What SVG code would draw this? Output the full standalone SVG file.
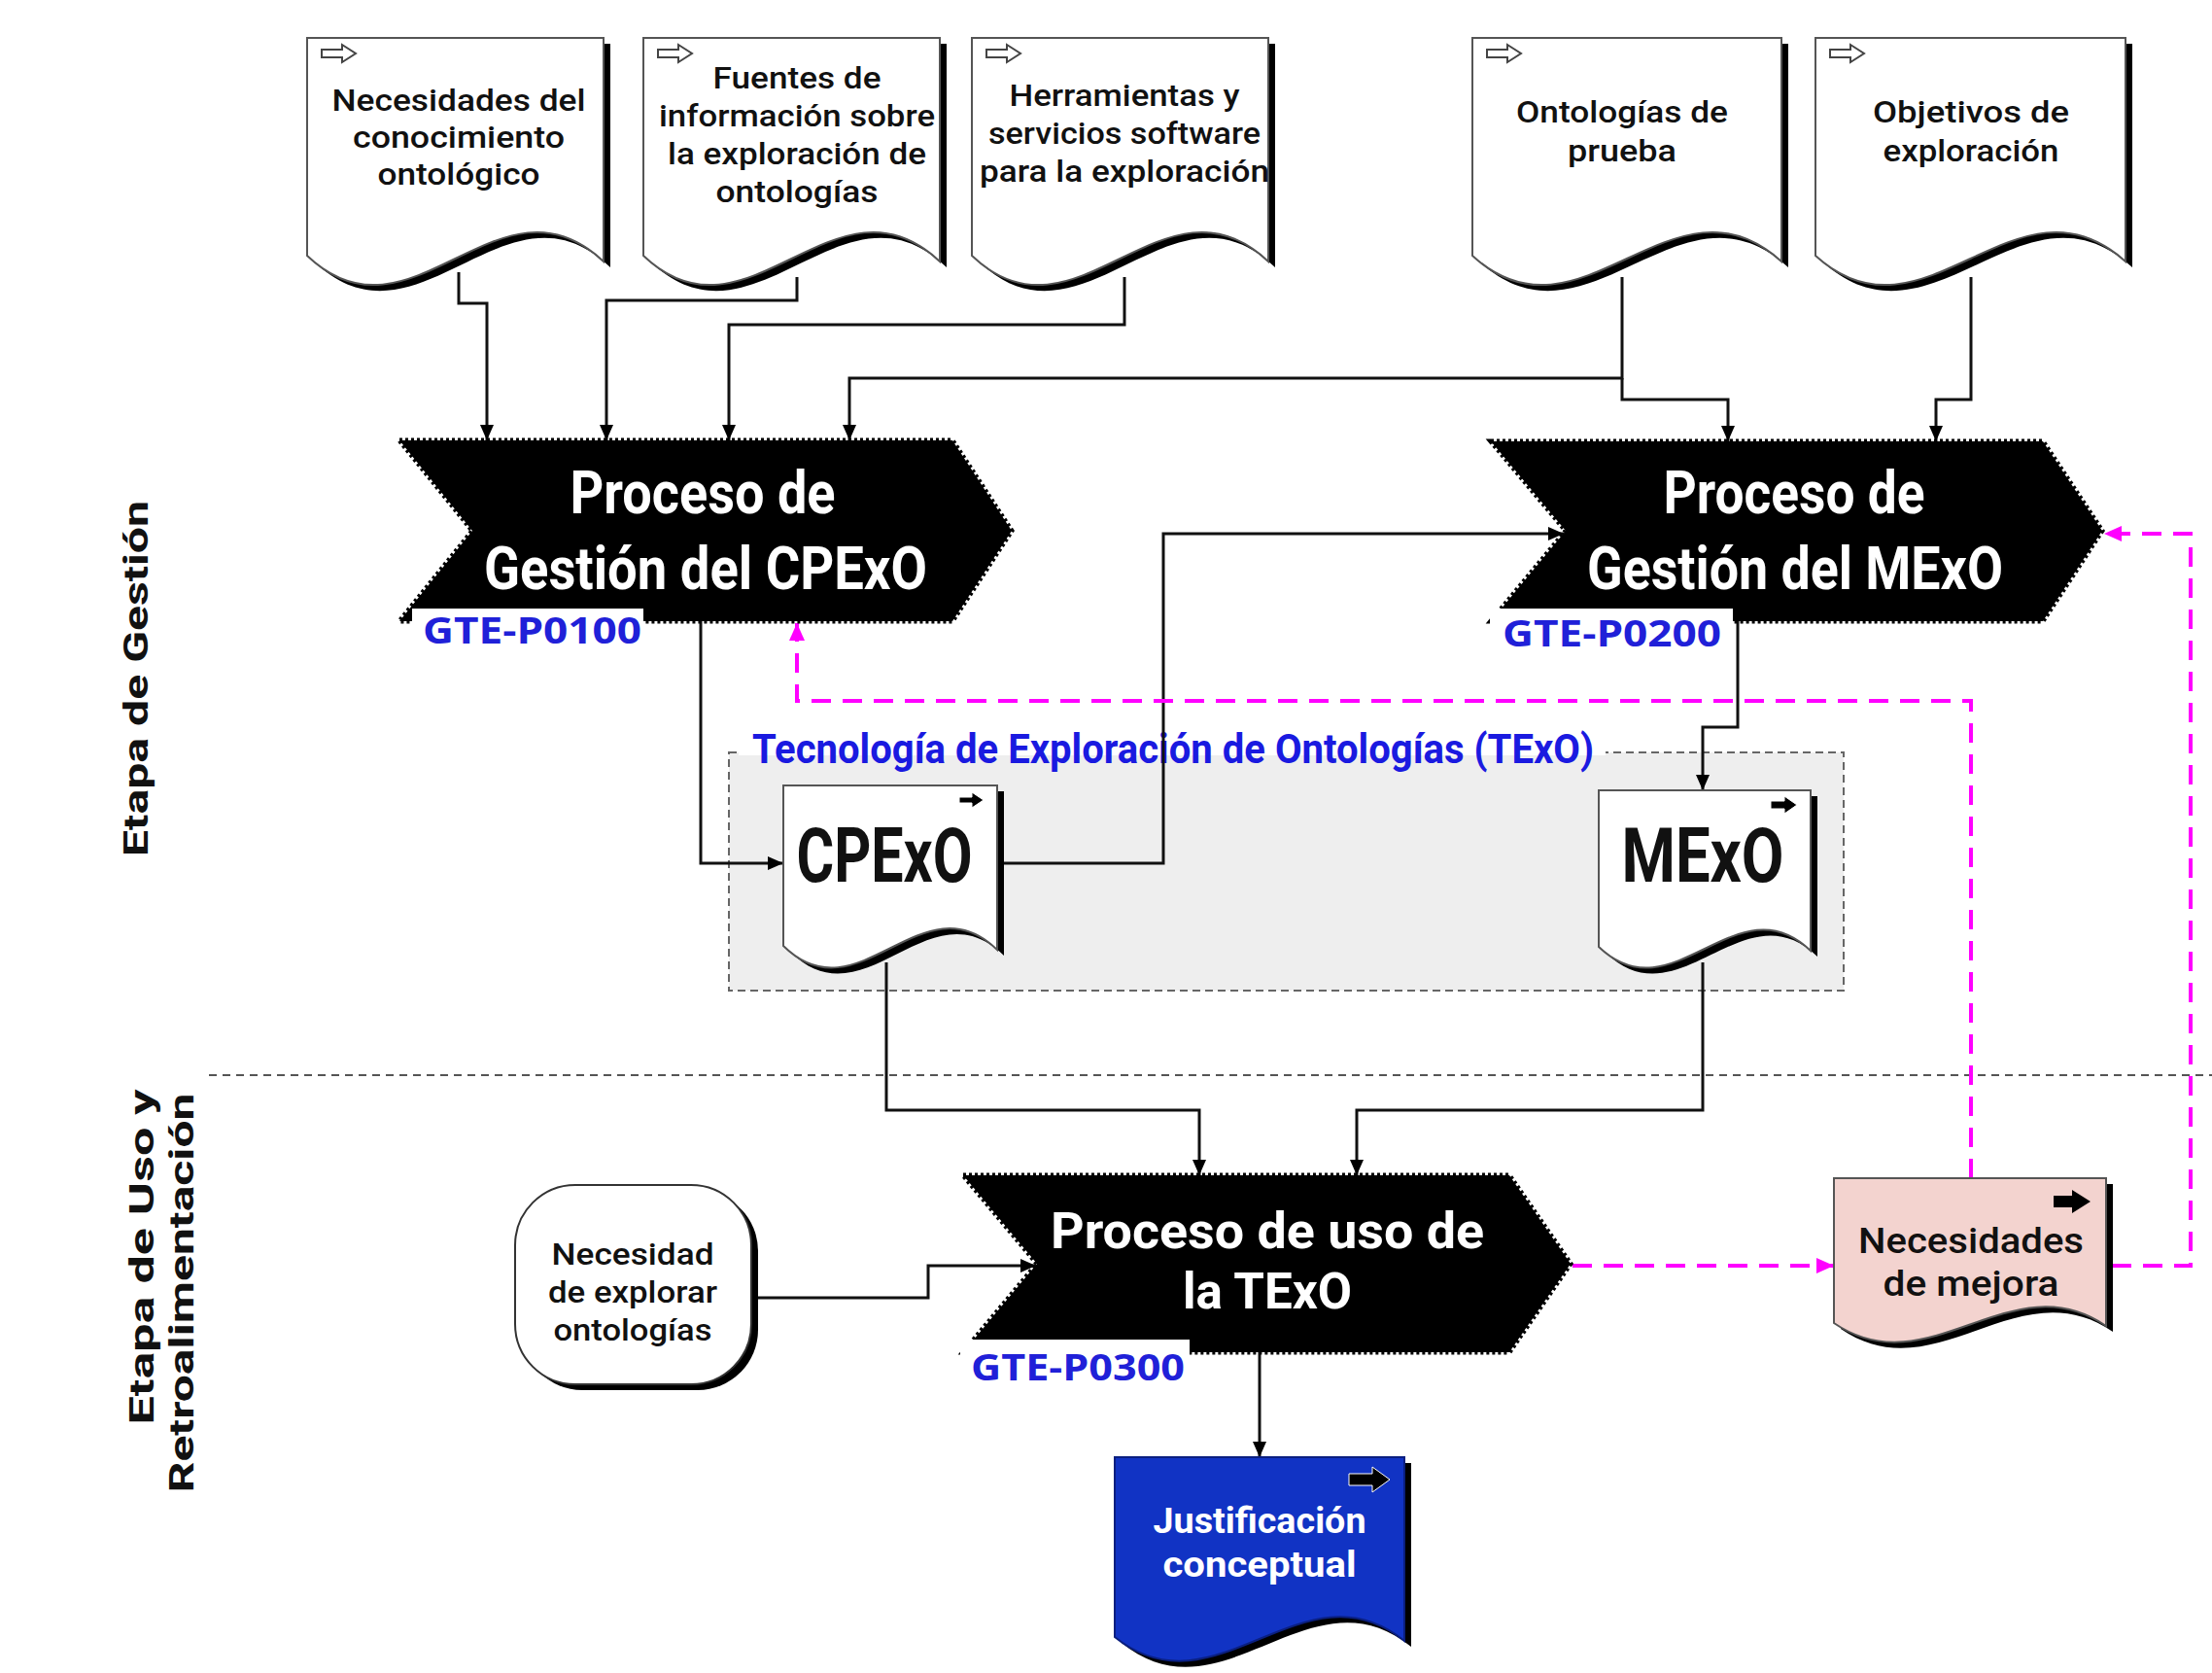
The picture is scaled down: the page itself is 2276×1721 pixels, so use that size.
<svg xmlns="http://www.w3.org/2000/svg" width="2276" height="1721" viewBox="0 0 2276 1721">
<style>
.doc{fill:#fff;stroke:#555;stroke-width:2}
.shadow{fill:#000}
.dt{font-family:Roboto,"Liberation Sans",Arial,sans-serif;font-size:32px;font-weight:500;fill:#111;text-anchor:middle}
.pt{font-family:Roboto,"Liberation Sans",Arial,sans-serif;font-size:62px;font-weight:bold;fill:#fff;text-anchor:middle}
.pt3{font-family:Roboto,"Liberation Sans",Arial,sans-serif;font-size:52px;font-weight:bold;fill:#fff;text-anchor:middle}
.proc{fill:#000;stroke:#000;stroke-width:5;stroke-dasharray:3 3}
.lbl{font-family:"Open Sans","Liberation Sans",Arial,sans-serif;font-size:38px;font-weight:bold;fill:#2020d8}
.lblbox{fill:#fff}
.con{fill:none;stroke:#111;stroke-width:3}
.mag{fill:none;stroke:#ff00ff;stroke-width:4;stroke-dasharray:20 12}
.stage{font-family:Roboto,"Liberation Sans",Arial,sans-serif;font-size:35px;font-weight:bold;fill:#111;text-anchor:middle}
.hicon{fill:#fff;stroke:#444;stroke-width:2}
.bicon{fill:#000;stroke:#fff;stroke-width:1}
.big{font-family:Roboto,"Liberation Sans",Arial,sans-serif;font-size:78px;font-weight:bold;fill:#111;text-anchor:middle}
.mt{font-family:Roboto,"Liberation Sans",Arial,sans-serif;font-size:36px;font-weight:500;fill:#111;text-anchor:middle}
.jt{font-family:Roboto,"Liberation Sans",Arial,sans-serif;font-size:37px;font-weight:bold;fill:#fff;text-anchor:middle}
</style>
<defs>
<marker id="ah" markerUnits="userSpaceOnUse" markerWidth="16" markerHeight="14" refX="16" refY="7" orient="auto">
<path d="M0,0 L16,7 L0,14 Z" fill="#000"/>
</marker>
<marker id="mh" markerUnits="userSpaceOnUse" markerWidth="18" markerHeight="16" refX="18" refY="8" orient="auto">
<path d="M0,0 L18,8 L0,16 Z" fill="#ff00ff"/>
</marker>
</defs>
<rect width="2276" height="1721" fill="#fff"/>

<!-- stage divider and labels -->
<line x1="215" y1="1106" x2="2276" y2="1106" stroke="#555" stroke-width="2" stroke-dasharray="8 6"/>
<text class="stage" transform="translate(152,698) rotate(-90)" textLength="366" lengthAdjust="spacingAndGlyphs">Etapa de Gestión</text>
<text class="stage" transform="translate(158,1293) rotate(-90)" textLength="345" lengthAdjust="spacingAndGlyphs">Etapa de Uso y</text>
<text class="stage" transform="translate(199,1330) rotate(-90)" textLength="411" lengthAdjust="spacingAndGlyphs">Retroalimentación</text>

<!-- TExO group box -->
<g id="texo-box">
<rect x="750" y="774" width="1147" height="245" fill="#eeeeee" stroke="#666" stroke-width="2" stroke-dasharray="8 5"/>
<rect x="760" y="740" width="892" height="37" fill="#fff"/>
<text x="774" y="785" font-family="Roboto,Liberation Sans,Arial,sans-serif" font-size="43" font-weight="bold" fill="#1a1ae0" textLength="866" lengthAdjust="spacingAndGlyphs">Tecnología de Exploración de Ontologías (TExO)</text>
</g>

<!-- connectors -->
<g id="connectors">
<path class="con" d="M472,280 V312 H501 V453" marker-end="url(#ah)"/>
<path class="con" d="M820,285 V309 H624 V453" marker-end="url(#ah)"/>
<path class="con" d="M1157,285 V334 H750 V453" marker-end="url(#ah)"/>
<path class="con" d="M1669,285 V389 H874 V453" marker-end="url(#ah)"/>
<path class="con" d="M1669,389 V411 H1778 V454" marker-end="url(#ah)"/>
<path class="con" d="M2028,285 V411 H1992 V454" marker-end="url(#ah)"/>
<path class="con" d="M721,630 V888 H806" marker-end="url(#ah)"/>
<path class="con" d="M1033,888 H1197 V549 H1609" marker-end="url(#ah)"/>
<path class="con" d="M1788,630 V748 H1752 V813" marker-end="url(#ah)"/>
<path class="con" d="M912,990 V1142 H1234 V1209" marker-end="url(#ah)"/>
<path class="con" d="M1752,990 V1142 H1396 V1209" marker-end="url(#ah)"/>
<path class="con" d="M776,1335 H955 V1302 H1066" marker-end="url(#ah)"/>
<path class="con" d="M1296,1391 V1499" marker-end="url(#ah)"/>
<path class="mag" d="M1618,1302 H1887" marker-end="url(#mh)"/>
<path class="mag" d="M2173,1302 H2254 V549 H2165" marker-end="url(#mh)"/>
<path class="mag" d="M2028,1212 V721 H820 V641" marker-end="url(#mh)"/>
</g>

<!-- top input documents -->
<g id="doc-necesidades-conocimiento">
<path class="shadow" d="M323,45 H628 V275 C521,173 430,371 323,269 Z"/>
<path class="doc" d="M316,39 H621 V269 C514,167 423,365 316,263 Z"/>
<path class="hicon" d="M331,51 H352 V46 L366,55 L352,64 V59 H331 Z"/>
<text class="dt" x="472" y="114" textLength="261" lengthAdjust="spacingAndGlyphs">Necesidades del</text>
<text class="dt" x="472" y="152" textLength="218" lengthAdjust="spacingAndGlyphs">conocimiento</text>
<text class="dt" x="472" y="190" textLength="167" lengthAdjust="spacingAndGlyphs">ontológico</text>
</g>
<g id="doc-fuentes">
<path class="shadow" d="M669,45 H974 V275 C867,173 776,371 669,269 Z"/>
<path class="doc" d="M662,39 H967 V269 C860,167 769,365 662,263 Z"/>
<path class="hicon" d="M677,51 H698 V46 L712,55 L698,64 V59 H677 Z"/>
<text class="dt" x="820" y="91" textLength="173" lengthAdjust="spacingAndGlyphs">Fuentes de</text>
<text class="dt" x="820" y="130" textLength="284" lengthAdjust="spacingAndGlyphs">información sobre</text>
<text class="dt" x="820" y="169" textLength="266" lengthAdjust="spacingAndGlyphs">la exploración de</text>
<text class="dt" x="820" y="208" textLength="167" lengthAdjust="spacingAndGlyphs">ontologías</text>
</g>
<g id="doc-herramientas">
<path class="shadow" d="M1007,45 H1312 V275 C1205,173 1114,371 1007,269 Z"/>
<path class="doc" d="M1000,39 H1305 V269 C1198,167 1107,365 1000,263 Z"/>
<path class="hicon" d="M1015,51 H1036 V46 L1050,55 L1036,64 V59 H1015 Z"/>
<text class="dt" x="1157" y="109" textLength="237" lengthAdjust="spacingAndGlyphs">Herramientas y</text>
<text class="dt" x="1157" y="148" textLength="280" lengthAdjust="spacingAndGlyphs">servicios software</text>
<text class="dt" x="1157" y="187" textLength="298" lengthAdjust="spacingAndGlyphs">para la exploración</text>
</g>
<g id="doc-ontologias-prueba">
<path class="shadow" d="M1522,45 H1840 V275 C1729,173 1633,371 1522,269 Z"/>
<path class="doc" d="M1515,39 H1833 V269 C1722,167 1626,365 1515,263 Z"/>
<path class="hicon" d="M1530,51 H1551 V46 L1565,55 L1551,64 V59 H1530 Z"/>
<text class="dt" x="1669" y="126" textLength="218" lengthAdjust="spacingAndGlyphs">Ontologías de</text>
<text class="dt" x="1669" y="166" textLength="112" lengthAdjust="spacingAndGlyphs">prueba</text>
</g>
<g id="doc-objetivos">
<path class="shadow" d="M1875,45 H2194 V275 C2082,173 1987,371 1875,269 Z"/>
<path class="doc" d="M1868,39 H2187 V269 C2075,167 1980,365 1868,263 Z"/>
<path class="hicon" d="M1883,51 H1904 V46 L1918,55 L1904,64 V59 H1883 Z"/>
<text class="dt" x="2028" y="126" textLength="202" lengthAdjust="spacingAndGlyphs">Objetivos de</text>
<text class="dt" x="2028" y="166" textLength="181" lengthAdjust="spacingAndGlyphs">exploración</text>
</g>

<!-- processes -->
<g id="proc-cpexo">
<path class="proc" d="M411,453 H980 L1041,546 L980,639 H411 L486,546 Z"/>
<text class="pt" x="723" y="528" textLength="273" lengthAdjust="spacingAndGlyphs">Proceso de</text>
<text class="pt" x="726" y="606" textLength="456" lengthAdjust="spacingAndGlyphs">Gestión del CPExO</text>
<rect class="lblbox" x="424" y="626" width="238" height="48"/>
<text class="lbl" x="435" y="662" textLength="225" lengthAdjust="spacingAndGlyphs">GTE-P0100</text>
</g>
<g id="proc-mexo">
<path class="proc" d="M1534,454 H2102 L2163,546 L2102,639 H1534 L1611,546 Z"/>
<text class="pt" x="1846" y="528" textLength="269" lengthAdjust="spacingAndGlyphs">Proceso de</text>
<text class="pt" x="1847" y="606" textLength="428" lengthAdjust="spacingAndGlyphs">Gestión del MExO</text>
<rect class="lblbox" x="1533" y="626" width="250" height="48"/>
<text class="lbl" x="1546" y="665" textLength="225" lengthAdjust="spacingAndGlyphs">GTE-P0200</text>
</g>
<g id="proc-uso">
<path class="proc" d="M991,1209 H1553 L1616,1300 L1553,1391 H991 L1067,1300 Z"/>
<text class="pt3" x="1304" y="1284" textLength="446" lengthAdjust="spacingAndGlyphs">Proceso de uso de</text>
<text class="pt3" x="1304" y="1346" textLength="174" lengthAdjust="spacingAndGlyphs">la TExO</text>
<rect class="lblbox" x="988" y="1378" width="236" height="50"/>
<text class="lbl" x="999" y="1420" textLength="220" lengthAdjust="spacingAndGlyphs">GTE-P0300</text>
</g>

<!-- TExO documents -->
<g id="doc-cpexo">
<path class="shadow" d="M813,814 H1033 V983 C956,908 890,1055 813,979 Z"/>
<path class="doc" d="M806,808 H1026 V977 C949,902 883,1049 806,973 Z"/>
<path class="bicon" d="M987,820 H1000 V815 L1012,823 L1000,831 V826 H987 Z"/>
<text class="big" x="910" y="907" textLength="181" lengthAdjust="spacingAndGlyphs">CPExO</text>
</g>
<g id="doc-mexo">
<path class="shadow" d="M1652,819 H1870 V984 C1794,911 1728,1053 1652,980 Z"/>
<path class="doc" d="M1645,813 H1863 V978 C1787,905 1721,1047 1645,974 Z"/>
<path class="bicon" d="M1822,824 H1836 V819 L1849,828 L1836,837 V832 H1822 Z"/>
<text class="big" x="1752" y="907" textLength="167" lengthAdjust="spacingAndGlyphs">MExO</text>
</g>

<!-- use stage nodes -->
<g id="term-necesidad">
<rect x="537" y="1225" width="243" height="205" rx="62" ry="62" fill="#000"/>
<rect x="530" y="1219" width="243" height="205" rx="62" ry="62" fill="#fff" stroke="#333" stroke-width="2"/>
<text class="dt" x="651" y="1301" textLength="167" lengthAdjust="spacingAndGlyphs">Necesidad</text>
<text class="dt" x="651" y="1340" textLength="174" lengthAdjust="spacingAndGlyphs">de explorar</text>
<text class="dt" x="651" y="1379" textLength="163" lengthAdjust="spacingAndGlyphs">ontologías</text>
</g>
<g id="doc-mejora">
<path class="shadow" d="M1894,1218 H2174 V1370 C2076,1303 1992,1434 1894,1367 Z"/>
<path class="doc" d="M1887,1212 H2167 V1364 C2069,1297 1985,1428 1887,1361 Z" style="fill:#f3d3cf"/>
<path d="M2113,1230 H2132 V1224 L2151,1236 L2132,1248 V1242 H2113 Z" fill="#000"/>
<text class="mt" x="2028" y="1289" textLength="232" lengthAdjust="spacingAndGlyphs">Necesidades</text>
<text class="mt" x="2028" y="1333" textLength="181" lengthAdjust="spacingAndGlyphs">de mejora</text>
</g>
<g id="doc-justificacion">
<path class="shadow" d="M1154,1505 H1452 V1694 C1348,1610 1258,1774 1154,1690 Z"/>
<path d="M1147,1499 H1445 V1688 C1341,1604 1251,1768 1147,1684 Z" fill="#1133c4" stroke="#0a1f80" stroke-width="2"/>
<path class="bicon" d="M1388,1516 H1412 V1509 L1430,1522 L1412,1535 V1528 H1388 Z"/>
<text class="jt" x="1296" y="1577" textLength="219" lengthAdjust="spacingAndGlyphs">Justificación</text>
<text class="jt" x="1296" y="1622" textLength="199" lengthAdjust="spacingAndGlyphs">conceptual</text>
</g>
</svg>
